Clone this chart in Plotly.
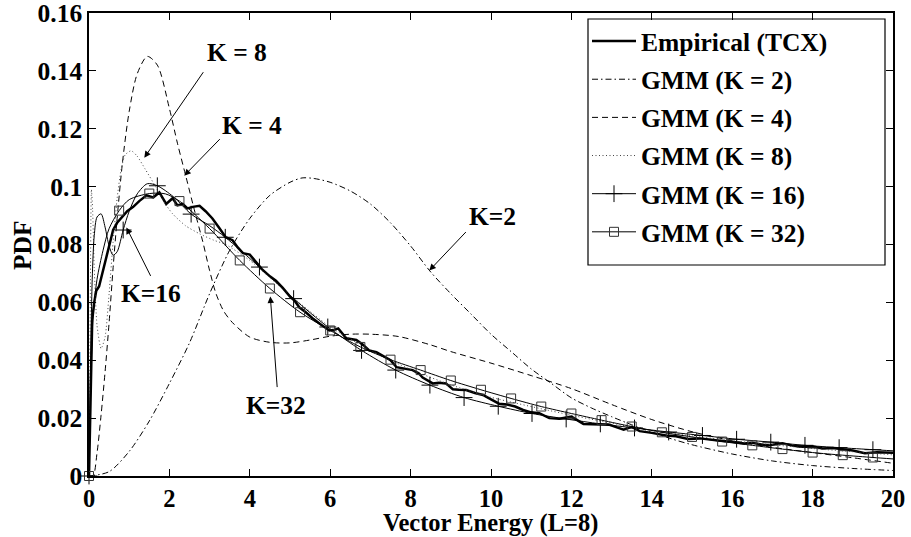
import plotly.graph_objects as go

# ---------------- data ----------------
emp_x = [0, 0.04, 0.08, 0.13, 0.18, 0.25, 0.33, 0.43, 0.52, 0.6, 0.7, 0.8, 0.95, 1.1, 1.25, 1.43,
         1.6, 1.75, 1.92, 2.08, 2.2, 2.33, 2.45, 2.58, 2.75, 2.9, 3.07, 3.25, 3.4, 3.57, 3.7, 3.83,
         4.0, 4.15, 4.3, 4.5, 4.65, 4.82, 5.0, 5.12, 5.23, 5.4, 5.56, 5.75, 5.98, 6.1, 6.2, 6.4,
         6.65, 6.8, 6.97, 7.15, 7.3, 7.5, 7.65, 7.85, 8.05, 8.2, 8.3, 8.55, 8.7, 8.88, 9.05, 9.2,
         9.38, 9.6, 9.8, 10.0, 10.2, 10.4, 10.6, 10.8, 11.0, 11.2, 11.45, 11.7, 12.0, 12.3, 12.6,
         12.95, 13.15, 13.3, 13.5, 13.7, 14.0, 14.35, 14.6, 14.9, 15.2, 15.5, 15.7, 16.0, 16.3,
         16.5, 16.8, 17.0, 17.25, 17.5, 17.7, 18.0, 18.25, 18.5, 18.8, 19.0, 19.3, 19.6, 20.0]
emp_y = [0, 0.03, 0.054, 0.060, 0.064, 0.0655, 0.070, 0.0755, 0.081, 0.085, 0.0875, 0.089, 0.0915,
         0.093, 0.095, 0.097, 0.0963, 0.098, 0.094, 0.096, 0.0935, 0.094, 0.0925, 0.093, 0.0934,
         0.0915, 0.089, 0.0855, 0.0825, 0.0815, 0.079, 0.077, 0.0765, 0.074, 0.0715, 0.069, 0.0675,
         0.065, 0.062, 0.0605, 0.0583, 0.0565, 0.0545, 0.0525, 0.0503, 0.0505, 0.051, 0.0476, 0.047,
         0.0455, 0.0434, 0.0428, 0.0417, 0.040, 0.0376, 0.0372, 0.0366, 0.0355, 0.034, 0.032, 0.0322,
         0.032, 0.030, 0.0298, 0.0297, 0.0287, 0.028, 0.0265, 0.025, 0.0247, 0.024, 0.0228, 0.022,
         0.0217, 0.020, 0.0198, 0.0205, 0.018, 0.0178, 0.0177, 0.0167, 0.016, 0.017, 0.0155, 0.0149,
         0.014, 0.0137, 0.0128, 0.013, 0.0124, 0.0122, 0.0118, 0.0112, 0.0115, 0.0107, 0.0108,
         0.0113, 0.0105, 0.0101, 0.0102, 0.0095, 0.0097, 0.0091, 0.0088, 0.0079, 0.0082, 0.0080]

k2_x = [0, 0.5, 1.0, 1.5, 2.0, 2.5, 3.0, 3.5, 4.0, 4.5, 5.0, 5.3, 5.6, 6.0, 6.5, 7.0, 7.5, 8.0,
        8.5, 9.0, 9.5, 10.0, 10.5, 11.0, 11.5, 12.0, 12.5, 13.0, 13.5, 14.0, 14.5, 15.0, 16.0,
        17.0, 18.0, 19.0, 20.0]
k2_y = [0, 0.0015, 0.0085, 0.019, 0.032, 0.046, 0.063, 0.078, 0.089, 0.097, 0.1015, 0.103, 0.1028,
        0.1015, 0.0985, 0.094, 0.0875, 0.0795, 0.0705, 0.063, 0.056, 0.049, 0.043, 0.037, 0.032,
        0.027, 0.0235, 0.0205, 0.0177, 0.0152, 0.0128, 0.0108, 0.0076, 0.0052, 0.0036, 0.0026, 0.0019]

k4_x = [0, 0.1, 0.2, 0.3, 0.4, 0.5, 0.6, 0.7, 0.83, 1.0, 1.2, 1.45, 1.7, 2.0, 2.2, 2.42, 2.62,
        2.83, 3.0, 3.16, 3.35, 3.57, 4.0, 4.5, 5.0, 5.5, 6.0, 6.5, 7.0, 7.7, 8.5, 9.0, 10.0, 11.0,
        12.0, 13.0, 14.0, 15.0, 16.0, 17.0, 18.0, 19.0, 20.0]
k4_y = [0, 0, 0.008, 0.021, 0.036, 0.053, 0.072, 0.089, 0.108, 0.126, 0.139, 0.145, 0.142, 0.127,
        0.115, 0.103, 0.092, 0.081, 0.071, 0.063, 0.057, 0.053, 0.048, 0.0462, 0.046, 0.047, 0.0483,
        0.049, 0.049, 0.0482, 0.0453, 0.043, 0.039, 0.0347, 0.0302, 0.0247, 0.0195, 0.0153, 0.0122,
        0.0099, 0.0081, 0.0063, 0.0044]

k8_x = [0, 0.03, 0.06, 0.09, 0.13, 0.2, 0.3, 0.4, 0.5, 0.6, 0.7, 0.8, 0.9, 1.05, 1.2, 1.4, 1.67,
        1.9, 2.08, 2.4, 2.75, 3.1, 3.4, 4.0, 5.0, 6.0, 7.0, 8.0, 9.0, 10.0, 12.0, 14.0, 16.0, 18.0, 20.0]
k8_y = [0, 0.055, 0.099, 0.092, 0.072, 0.052, 0.044, 0.048, 0.063, 0.081, 0.096, 0.106, 0.111,
        0.1124, 0.1105, 0.106, 0.0997, 0.094, 0.0906, 0.0865, 0.0837, 0.0815, 0.080, 0.0745, 0.0625,
        0.0515, 0.0435, 0.0368, 0.0315, 0.0272, 0.021, 0.0157, 0.0122, 0.0095, 0.0073]

k16_x = [0, 0.04, 0.08, 0.13, 0.2, 0.3, 0.4, 0.5, 0.6, 0.7, 0.85, 1.0, 1.2, 1.45, 1.7, 2.1, 2.54,
         3.0, 3.39, 4.24, 5.09, 5.94, 6.78, 7.63, 8.48, 9.33, 10.18, 11.02, 11.87, 12.72, 13.57,
         14.42, 15.26, 16.11, 16.96, 17.81, 18.66, 19.5, 20.0]
k16_y = [0, 0.04, 0.068, 0.083, 0.0895, 0.0906, 0.086, 0.0795, 0.0763, 0.0775, 0.085, 0.0915,
         0.0975, 0.101, 0.1003, 0.0965, 0.0905, 0.0865, 0.0825, 0.0722, 0.0613, 0.0515, 0.0434,
         0.0366, 0.0314, 0.0271, 0.0241, 0.0216, 0.0197, 0.018, 0.0166, 0.0152, 0.014, 0.0127,
         0.0117, 0.0106, 0.0098, 0.0091, 0.0087]
k16_marker_x = [0, 0.85, 1.7, 2.54, 3.39, 4.24, 5.09, 5.94, 6.78, 7.63, 8.48, 9.33, 10.18, 11.02,
                11.87, 12.72, 13.57, 14.42, 15.26, 16.11, 16.96, 17.81, 18.66, 19.5]

k32_x = [0, 0.05, 0.1, 0.2, 0.35, 0.5, 0.75, 1.0, 1.5, 1.9, 2.25, 3.0, 3.75, 4.5, 5.25, 6.0, 6.75,
         7.5, 8.25, 9.0, 9.75, 10.5, 11.25, 12.0, 12.75, 13.5, 14.25, 15.0, 15.75, 16.5, 17.25,
         18.0, 18.75, 19.5, 20.0]
k32_y = [0, 0.035, 0.055, 0.068, 0.078, 0.0855, 0.0917, 0.0955, 0.0976, 0.0975, 0.095, 0.0855,
         0.0745, 0.0648, 0.0566, 0.0503, 0.0446, 0.0402, 0.0366, 0.033, 0.0298, 0.0268, 0.024,
         0.0216, 0.0193, 0.0171, 0.0151, 0.0135, 0.0119, 0.0106, 0.0093, 0.0081, 0.0072, 0.0064, 0.0059]
k32_marker_x = [0, 0.75, 1.5, 2.25, 3.0, 3.75, 4.5, 5.25, 6.0, 6.75, 7.5, 8.25, 9.0, 9.75, 10.5,
                11.25, 12.0, 12.75, 13.5, 14.25, 15.0, 15.75, 16.5, 17.25, 18.0, 18.75, 19.5]

x_ticks = [0, 2, 4, 6, 8, 10, 12, 14, 16, 18, 20]
y_ticks = [0, 0.02, 0.04, 0.06, 0.08, 0.1, 0.12, 0.14, 0.16]
y_tick_labels = ["0", "0.02", "0.04", "0.06", "0.08", "0.1", "0.12", "0.14", "0.16"]

legend_names = ["Empirical (TCX)", "GMM (K = 2)", "GMM (K = 4)", "GMM (K = 8)",
                "GMM (K = 16)", "GMM (K = 32)"]

# label text, text position (x, y), arrow tip (x, y), arrow tail offset in px (ax, ay)
callouts = [
    ("K = 8", 3.69, 0.1462, 1.376, 0.110, 60, -87),
    ("K = 4", 4.06, 0.121, 2.37, 0.1038, 37, -38),
    ("K=2", 10.03, 0.0897, 8.465, 0.071, 38, -40),
    ("K=16", 1.55, 0.0631, 0.93, 0.0859, 25, 50),
    ("K=32", 4.66, 0.0245, 4.51, 0.062, 7, 92),
]

assert len(emp_x) == len(emp_y)
assert len(k2_x) == len(k2_y)
assert len(k4_x) == len(k4_y)
assert len(k8_x) == len(k8_y)
assert len(k16_x) == len(k16_y)
assert len(k32_x) == len(k32_y)

# ---------------- figure ----------------
FONT = "Liberation Serif, Times New Roman, DejaVu Serif, serif"
FS = 25.5
TICK_FS = 24.5
XTITLE_FS = 24.5
BLACK = "black"


def b(s):
    return "<b>" + s + "</b>"


def pick(xs, ys, wanted):
    w = set(round(v, 3) for v in wanted)
    px, py = [], []
    for xv, yv in zip(xs, ys):
        if round(xv, 3) in w:
            px.append(xv)
            py.append(yv)
    return px, py


fig = go.Figure()

fig.add_trace(go.Scatter(x=emp_x, y=emp_y, mode="lines", name=b(legend_names[0]), legendgroup="g0",
                         line=dict(color=BLACK, width=2.5)))
fig.add_trace(go.Scatter(x=k2_x, y=k2_y, mode="lines", name=b(legend_names[1]), legendgroup="g1",
                         line=dict(color=BLACK, width=1, dash="6px,3px,1.5px,3px",
                                   shape="spline", smoothing=0.8)))
fig.add_trace(go.Scatter(x=k4_x, y=k4_y, mode="lines", name=b(legend_names[2]), legendgroup="g2",
                         line=dict(color=BLACK, width=1, dash="6px,4px",
                                   shape="spline", smoothing=0.8)))
fig.add_trace(go.Scatter(x=k8_x, y=k8_y, mode="lines", name=b(legend_names[3]), legendgroup="g3",
                         line=dict(color="#444444", width=1, dash="1px,2.5px",
                                   shape="spline", smoothing=0.6)))

# K = 16 line + markers
fig.add_trace(go.Scatter(x=k16_x, y=k16_y, mode="lines", showlegend=False, legendgroup="g4",
                         line=dict(color=BLACK, width=1, shape="spline", smoothing=0.8)))
mx, my = pick(k16_x, k16_y, k16_marker_x)
fig.add_trace(go.Scatter(x=mx, y=my, mode="markers", showlegend=False, cliponaxis=False,
                         legendgroup="g4",
                         marker=dict(symbol="cross-thin-open", size=12, color=BLACK,
                                     line=dict(color=BLACK, width=1))))
fig.add_trace(go.Scatter(x=[None], y=[None], mode="lines+markers", name=b(legend_names[4]),
                         legendgroup="g4",
                         line=dict(color=BLACK, width=1),
                         marker=dict(symbol="cross-thin-open", size=12, color=BLACK,
                                     line=dict(color=BLACK, width=1))))

# K = 32 line + markers
fig.add_trace(go.Scatter(x=k32_x, y=k32_y, mode="lines", showlegend=False, legendgroup="g5",
                         line=dict(color=BLACK, width=1, shape="spline", smoothing=0.8)))
mx, my = pick(k32_x, k32_y, k32_marker_x)
fig.add_trace(go.Scatter(x=mx, y=my, mode="markers", showlegend=False, cliponaxis=False,
                         legendgroup="g5",
                         marker=dict(symbol="square-open", size=9, color="#333333",
                                     line=dict(color="#333333", width=1))))
fig.add_trace(go.Scatter(x=[None], y=[None], mode="lines+markers", name=b(legend_names[5]),
                         legendgroup="g5",
                         line=dict(color=BLACK, width=1),
                         marker=dict(symbol="square-open", size=9, color="#333333",
                                     line=dict(color="#333333", width=1))))

annotations = []
for text, tx, ty, hx, hy, ax, ay in callouts:
    annotations.append(dict(x=tx, y=ty, xref="x", yref="y", text=b(text), showarrow=False,
                            font=dict(family=FONT, size=FS, color=BLACK)))
    annotations.append(dict(x=hx, y=hy, xref="x", yref="y", text="", showarrow=True,
                            ax=ax, ay=ay, arrowhead=2, arrowsize=1.3, arrowwidth=1,
                            arrowcolor=BLACK, standoff=0))

L, R, T, B = 89, 18, 13, 61
W, H = 911, 537
pw, ph = W - L - R, H - T - B


def px2paper(px, py):
    return (px - L) / pw, (H - B - py) / ph


# axis titles
tx_, ty_ = px2paper(490, 523)
annotations.append(dict(x=tx_, y=ty_, xref="paper", yref="paper", text=b("Vector Energy (L=8)"),
                        showarrow=False, xanchor="center", yanchor="middle",
                        font=dict(family=FONT, size=XTITLE_FS, color=BLACK)))
px_, py_ = px2paper(22, 245)
annotations.append(dict(x=px_, y=py_, xref="paper", yref="paper", text=b("PDF"),
                        showarrow=False, textangle=-90, xanchor="center", yanchor="middle",
                        font=dict(family=FONT, size=FS, color=BLACK)))

lx0, ly0 = px2paper(588, 265)
lx1, ly1 = px2paper(885, 19)
legx, legy = px2paper(587, 18)

fig.update_layout(
    width=W, height=H,
    margin=dict(l=L, r=R, t=T, b=B, autoexpand=False),
    paper_bgcolor="white", plot_bgcolor="white",
    font=dict(family=FONT, size=FS, color=BLACK),
    showlegend=True,
    legend=dict(x=legx, y=legy, xanchor="left", yanchor="top",
                bgcolor="rgba(0,0,0,0)", borderwidth=0, itemwidth=44,
                font=dict(family=FONT, size=FS, color=BLACK), tracegroupgap=2),
    annotations=annotations,
    shapes=[dict(type="rect", xref="paper", yref="paper", x0=lx0, y0=ly0, x1=lx1, y1=ly1,
                 line=dict(color=BLACK, width=1.2), fillcolor="white", layer="below")],
    xaxis=dict(range=[0, 20], tickvals=x_ticks, ticktext=[b(str(v)) for v in x_ticks],
               ticks="inside", ticklen=7, tickcolor=BLACK, showline=True, linecolor=BLACK,
               linewidth=1.5, mirror="ticks", showgrid=False, zeroline=False, automargin=False,
               ticklabeloverflow="allow",
               tickfont=dict(family=FONT, size=TICK_FS, color=BLACK)),
    yaxis=dict(range=[0, 0.16], tickvals=y_ticks, ticktext=[b(s) for s in y_tick_labels],
               ticks="inside", ticklen=7, tickcolor=BLACK, showline=True, linecolor=BLACK,
               linewidth=1.5, mirror="ticks", showgrid=False, zeroline=False, automargin=False,
               ticklabeloverflow="allow",
               tickfont=dict(family=FONT, size=FS, color=BLACK)),
)

fig.write_html("out.html")
